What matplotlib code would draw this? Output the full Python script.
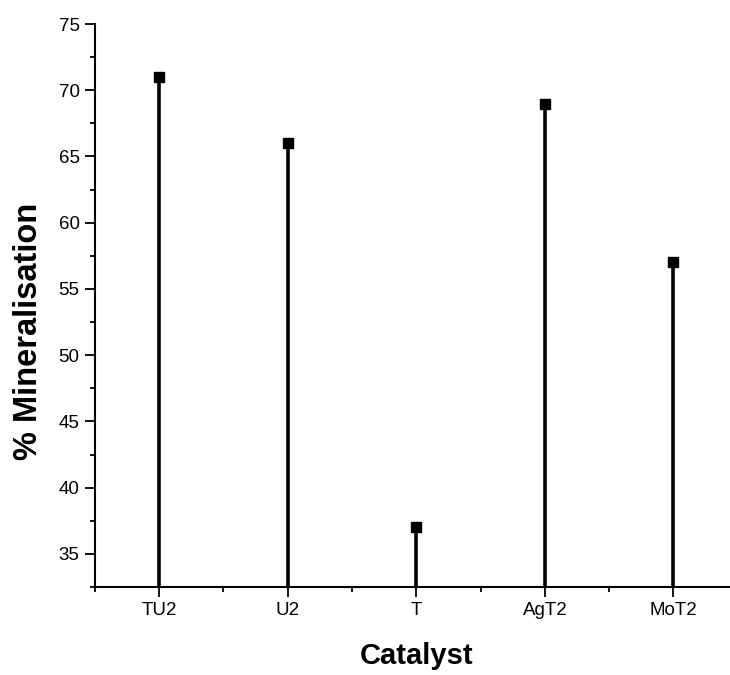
import matplotlib
matplotlib.use("Agg")
import matplotlib.pyplot as plt
from matplotlib.ticker import MultipleLocator, FixedLocator

plt.rcParams['font.family'] = ['Liberation Sans', 'DejaVu Sans']

catalysts = ["TU2", "U2", "T", "AgT2", "MoT2"]
mineralisation = [71, 66, 37, 69, 57]

W, H = 730, 675
fig = plt.figure(figsize=(W / 100, H / 100), dpi=100)
ax = fig.add_axes([0.130, 0.1304, 0.870, 0.834])

x = list(range(1, len(catalysts) + 1))
ymin = 32.5
ax.vlines(x, ymin, mineralisation, colors="black", linewidth=2.6)
ax.plot(x, mineralisation, linestyle="none", marker="s", markersize=7.5, color="black")

ax.set_xlim(0.5, 5.44)
ax.set_ylim(ymin, 75)

ax.xaxis.set_major_locator(FixedLocator(x))
ax.xaxis.set_minor_locator(FixedLocator([0.5, 1.5, 2.5, 3.5, 4.5]))
ax.set_xticklabels(catalysts)
ax.yaxis.set_major_locator(MultipleLocator(5))
ax.yaxis.set_minor_locator(MultipleLocator(2.5))

for side in ("top", "right"):
    ax.spines[side].set_visible(False)
for side in ("left", "bottom"):
    ax.spines[side].set_linewidth(1.5)

ax.tick_params(which="major", direction="out", length=7, width=1.3, labelsize=13.5, pad=4)
ax.tick_params(which="minor", direction="out", length=3.5, width=1.3)

# axis titles placed in figure pixels
fig.text(417 / W, 1 - 664 / H, "Catalyst", fontsize=21, fontweight="bold",
         ha="center", va="baseline")
fig.text(37 / W, 1 - 331 / H, "% Mineralisation", fontsize=23.5, fontweight="bold",
         rotation=90, rotation_mode="anchor", ha="center", va="baseline")

fig.savefig("out.png", dpi=100)
